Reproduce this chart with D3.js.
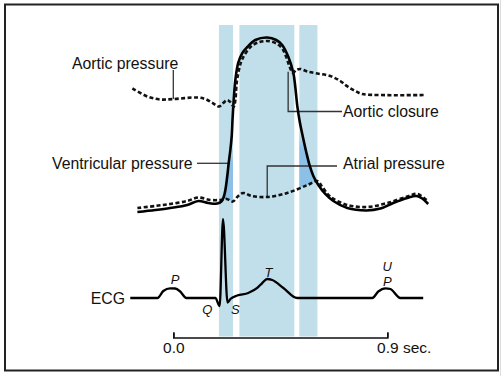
<!DOCTYPE html>
<html><head><meta charset="utf-8">
<script src="https://cdn.jsdelivr.net/npm/d3@7"></script>
<style>
html,body{margin:0;padding:0;background:#fff;}
svg{display:block;font-family:"Liberation Sans",Arial,Helvetica,sans-serif;}
</style></head><body>
<svg id="chart" width="503" height="376"></svg>
<script>
// ---- Data (time in seconds, pressure in mmHg, ECG in mV) ----
const ventT = [-0.151,-0.076,-0.013,0.059,0.105,0.147,0.185,0.202,0.212,0.219,0.227,0.233,0.240,0.246,0.249,0.254,0.261,0.273,0.290,0.311,0.345,0.395,0.433,0.458,0.484,0.505,0.513,0.522,0.532,0.545,0.559,0.574,0.589,0.610,0.639,0.673,0.732,0.812,0.871,0.925,0.984,1.022,1.043,1.072];
const ventP = [-1.4,0,1.4,3.5,6.3,4.9,4.5,5.9,9.1,14.0,23.7,32.8,41.9,52.3,62.8,76.7,90.7,102.6,109.5,113.7,118.6,120.3,118.6,115.1,106.7,95.6,85.8,71.9,61.4,50.9,40.5,30.7,23.7,17.4,11.2,6.3,1.4,-0.3,1.0,4.9,8.4,9.8,8.4,4.2];

const aortT = [-0.172,-0.109,-0.055,0.000,0.101,0.135,0.164,0.193,0.210,0.227,0.240,0.254,0.261,0.267,0.278,0.290,0.324,0.357,0.395,0.433,0.458,0.475,0.488,0.503,0.517,0.534,0.564,0.606,0.660,0.702,0.732,0.765,0.795,0.871,1.060];
const aortP = [84.8,79.2,77.1,77.4,78.5,77.4,74.7,72.2,74.7,76.7,75.3,71.9,76.7,89.3,99.1,105.3,113.7,116.9,117.9,116.2,112.7,106.7,100.5,95.6,97.7,98.4,96.6,95.2,93.5,90.0,86.2,83.0,80.9,80.2,80.2];

const atrT = [-0.151,-0.076,-0.013,0.059,0.105,0.156,0.198,0.225,0.250,0.273,0.294,0.330,0.395,0.479,0.564,0.606,0.627,0.660,0.732,0.816,0.900,0.984,1.026,1.072];
const atrP = [1.4,2.8,4.2,6.3,8.7,7.0,7.0,7.7,5.9,9.8,11.9,9.8,9.1,11.9,17.4,20.2,16.0,9.4,3.5,2.1,4.9,9.4,11.2,5.9];

const ecgT = [-0.181,-0.067,-0.042,-0.013,0.008,0.029,0.055,0.177,0.195,0.209,0.228,0.240,0.269,0.315,0.353,0.374,0.395,0.416,0.463,0.521,0.837,0.862,0.892,0.913,0.955,1.051];
const ecgV = [0,0,0.097,0.135,0.132,0.090,0,0,-0.111,1.097,-0.0625,-0.014,0.035,0.069,0.139,0.208,0.264,0.250,0.139,0,0,0.090,0.135,0.125,0,0];

const waveNames = ["P","Q","S","T","U","P"];
const waveT = [0.008,0.143,0.261,0.400,0.900,0.900];
const waveV = [0.264,-0.153,-0.153,0.361,0.444,0.236];

const bandStart = [0.192,0.278,0.530];
const bandEnd   = [0.251,0.509,0.606];

const axisTicks = [0, 0.9];
const axisUnit = " sec.";

const labelTexts = ["Aortic pressure","Aortic closure","Ventricular pressure","Atrial pressure"];
// leader-line anchor points on the curves (time, mmHg)
const anchorT = [0.000, 0.483, 0.233, 0.395];
const anchorP = [77.4, 96.5, 32.8, 9.1];

// ---- Drawing ----
const svg = d3.select("#chart");
const x = d3.scaleLinear().domain([0, 0.9]).range([173.3, 387.3]);
const yP = d3.scaleLinear().domain([0, 120]).range([210, 38]);
const yE = d3.scaleLinear().domain([0, 1]).range([298, 226]);

const bandTop = 25, bandBottom = 336.5;
const lightBlue = "#c0dfea", darkBlue = "#8dc0e7";

const defs = svg.append("defs");

// bands
svg.append("g").selectAll("rect").data(bandStart).join("rect")
  .attr("x", (d,i) => x(d)).attr("width", (d,i) => x(bandEnd[i]) - x(d))
  .attr("y", bandTop).attr("height", bandBottom - bandTop)
  .attr("fill", lightBlue);

const zip = (T, V) => T.map((t,i) => [t, V[i]]);
const vent = zip(ventT, ventP), aort = zip(aortT, aortP), atr = zip(atrT, atrP), ecg = zip(ecgT, ecgV);

// darker isovolumetric regions
function darkRegion(id, bi, topP, poly) {
  const yTop = yP(topP);
  const g = defs.append("linearGradient").attr("id", "g"+id)
    .attr("gradientUnits","userSpaceOnUse").attr("x1",0).attr("x2",0)
    .attr("y1", yTop).attr("y2", yTop + 16);
  g.append("stop").attr("offset",0).attr("stop-color", lightBlue);
  g.append("stop").attr("offset",1).attr("stop-color", darkBlue);
  defs.append("clipPath").attr("id","c"+id).append("rect")
    .attr("x", x(bandStart[bi])).attr("width", x(bandEnd[bi]) - x(bandStart[bi]))
    .attr("y", yTop).attr("height", bandBottom - yTop);
  svg.append("path")
    .attr("d", d3.line().x(d => x(d[0])).y(d => yP(d[1]))(poly) + "Z")
    .attr("fill", "url(#g"+id+")").attr("clip-path", "url(#c"+id+")");
}
{
  const vs = vent.filter(d => d[0] >= 0.20 && d[0] <= 0.262);
  const as = atr.filter(d => d[0] >= 0.19 && d[0] <= 0.30).reverse();
  darkRegion(1, 0, 44, [...vs, [0.30, 130], [0.30, 12], ...as]);
  const vs2 = vent.filter(d => d[0] >= 0.52 && d[0] <= 0.615);
  const as2 = atr.filter(d => d[0] >= 0.47 && d[0] <= 0.61).reverse();
  darkRegion(2, 2, 54, [[0.479, 130], ...vs2, ...as2]);
}

// leader lines
const leaderColor = "#333";
const leaders = [
  [[x(anchorT[0]), 70], [x(anchorT[0]), yP(anchorP[0])]],
  [[342, 111.5], [x(anchorT[1]), 111.5], [x(anchorT[1]), yP(anchorP[1])]],
  [[197, 163.3], [x(anchorT[2]), 163.3]],
  [[337, 166], [x(anchorT[3]), 166], [x(anchorT[3]), yP(anchorP[3])]]
];
svg.append("g").selectAll("path").data(leaders).join("path")
  .attr("d", d3.line()).attr("fill","none").attr("stroke", leaderColor).attr("stroke-width", 1.3);

// pressure curves
const pLine = d3.line().x(d => x(d[0])).y(d => yP(d[1])).curve(d3.curveCatmullRom.alpha(0.5));
svg.append("path").attr("d", pLine(atr)).attr("fill","none").attr("stroke","#111")
  .attr("stroke-width",2.6).attr("stroke-dasharray","4,2.4");
svg.append("path").attr("d", pLine(vent)).attr("fill","none").attr("stroke","#000")
  .attr("stroke-width",2.6).attr("stroke-linejoin","round");
svg.append("path").attr("d", pLine(aort)).attr("fill","none").attr("stroke","#111")
  .attr("stroke-width",2.6).attr("stroke-dasharray","4,2.4");

// ECG
const eLine = d3.line().x(d => x(d[0])).y(d => yE(d[1])).curve(d3.curveMonotoneX);
svg.append("path").attr("d", eLine(ecg)).attr("fill","none").attr("stroke","#000")
  .attr("stroke-width",2.3).attr("stroke-linejoin","round");

svg.append("g").selectAll("text").data(waveNames).join("text")
  .attr("x", (d,i) => x(waveT[i])).attr("y", (d,i) => yE(waveV[i]))
  .attr("dy","0.36em").attr("text-anchor","middle")
  .attr("font-style","italic").attr("font-size", 13).attr("fill","#111")
  .text(d => d);

// axis
const axis = d3.axisBottom(x).tickValues(axisTicks).tickFormat(d3.format(".1f"))
  .tickSizeInner(-5).tickSizeOuter(-5).tickPadding(4);
const ag = svg.append("g").attr("transform","translate(0,337.5)").call(axis);
ag.selectAll("path, line").attr("stroke","#111").attr("stroke-width",1.6);
ag.selectAll("text").attr("font-size",15.5).attr("font-family",'"Liberation Sans",Arial,sans-serif').attr("fill","#111");
ag.selectAll(".tick").filter(d => d === axisTicks[1]).select("text").each(function() {
  const t = d3.select(this);
  const w = this.getComputedTextLength();
  t.attr("text-anchor","start").attr("x", -w/2);
  t.append("tspan").text(axisUnit);
});

// labels
const labelPos = [[72,69,"start"],[343,117,"start"],[52,168.5,"start"],[343,168.5,"start"]];
svg.append("g").selectAll("text").data(labelTexts).join("text")
  .attr("x", (d,i) => labelPos[i][0]).attr("y", (d,i) => labelPos[i][1])
  .attr("text-anchor", (d,i) => labelPos[i][2])
  .attr("font-size", 15.8).attr("fill","#111").text(d => d);
svg.append("text").attr("x",125).attr("y",304).attr("text-anchor","end")
  .attr("font-size",15.8).attr("fill","#111").text("ECG");

// frame
svg.append("rect").attr("x",5).attr("y",4.5).attr("width",493).attr("height",366)
  .attr("fill","none").attr("stroke","#222").attr("stroke-width",2);
svg.append("line").attr("x1",500.5).attr("x2",500.5).attr("y1",0).attr("y2",376)
  .attr("stroke","#ddd").attr("stroke-width",1);
</script>
</body></html>
